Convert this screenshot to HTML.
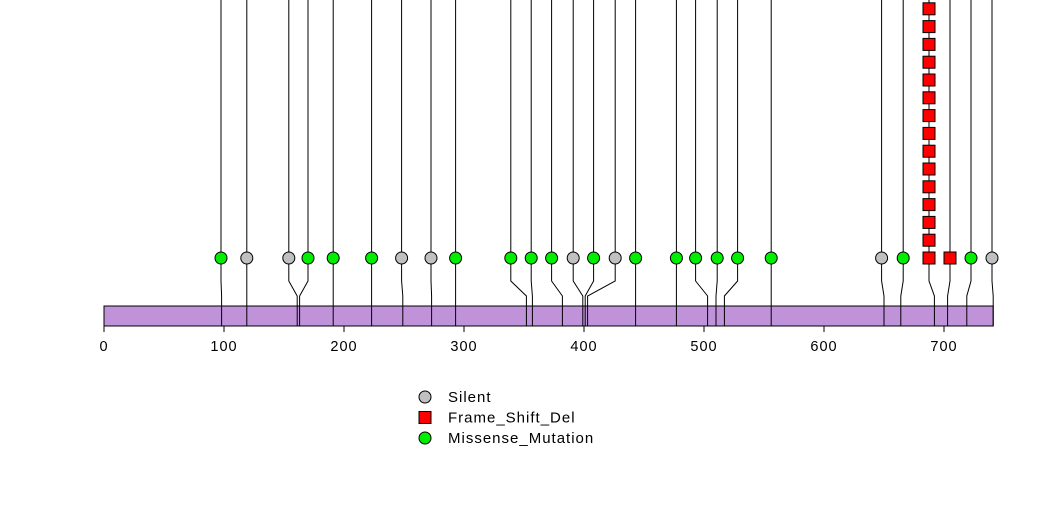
<!DOCTYPE html>
<html><head><meta charset="utf-8"><style>body{margin:0;background:#fff}svg{display:block;font-family:"Liberation Sans",sans-serif}</style></head>
<body>
<svg id="chart" width="1047" height="524" viewBox="0 0 1047 524"></svg>
<script>
const protLen = 741;
const ticks = [0,100,200,300,400,500,600,700];
const mutPos  = [98,119,161,163,191,223,249,273,293,352,357,382,399,401,403,443,477,503,510,517,556,650,664,692,703,719,741];
const headPos = [97.5,119,154,170,191,223,248,272.5,293,339,356,373,391,408,426,443,477,493,511,528,556,648,666,687.5,705,722.5,740];
const mutType = ['M','S','S','M','M','M','S','S','M','M','M','M','S','M','S','M','M','M','M','M','M','S','M','F','F','M','S'];
const mutCount= [1,1,1,1,1,1,1,1,1,1,1,1,1,1,1,1,1,1,1,1,1,1,1,15,1,1,1];
const legendLabels = ['Silent','Frame_Shift_Del','Missense_Mutation'];
const legendTypes = ['S','F','M'];
const colors = {S:'#c0c0c0',F:'#ff0000',M:'#00ee00'};
const NS='http://www.w3.org/2000/svg';
const svg=document.getElementById('chart');
const x0=104, scale=1.2;
const X=a=>x0+a*scale;
function mk(t,at,p){const e=document.createElementNS(NS,t);for(const k in at)e.setAttribute(k,at[k]);(p||svg).appendChild(e);return e;}
mutPos.forEach((p,i)=>{
  const bx=X(p),hx=X(headPos[i]);
  const l=mk('polyline',{points:`${bx},306 ${bx},296 ${hx},281 ${hx},0`,fill:'none',stroke:'#000','stroke-width':1});
  
  
});
const bar=mk('rect',{x:x0,y:306,width:protLen*scale,height:20,fill:'#c092da',stroke:'#000','stroke-width':1});


mutPos.forEach((p,i)=>{const bx=X(p);mk('line',{x1:bx,y1:306,x2:bx,y2:326,stroke:'#000','stroke-width':1});});
ticks.forEach(t=>{
  mk('line',{x1:X(t),y1:326,x2:X(t),y2:332,stroke:'#000'});
  const tx=mk('text',{x:X(t),y:351,'text-anchor':'middle','font-size':14.5,'letter-spacing':1});
  tx.textContent=t;
  
  
});
function head(type,cx,cy){
  let e;
  if(type==='F') e=mk('rect',{x:cx-6,y:cy-6,width:12,height:12,fill:colors[type],stroke:'#000'});
  else e=mk('circle',{cx:cx,cy:cy,r:6,fill:colors[type],stroke:'#000'});
  return e;
}
mutPos.forEach((p,i)=>{
  const hx=X(headPos[i]);
  for(let k=0;k<mutCount[i];k++){
    const h=head(mutType[i],hx,258-k*17.8);
    
    
  }
});
legendLabels.forEach((lab,i)=>{
  const y=397+i*20.5;
  const h=head(legendTypes[i],425,y);
  
  
  const t=mk('text',{x:448,y:y+5,'font-size':15,'letter-spacing':1});
  t.textContent=lab;
  
  
});
</script>
</body></html>
